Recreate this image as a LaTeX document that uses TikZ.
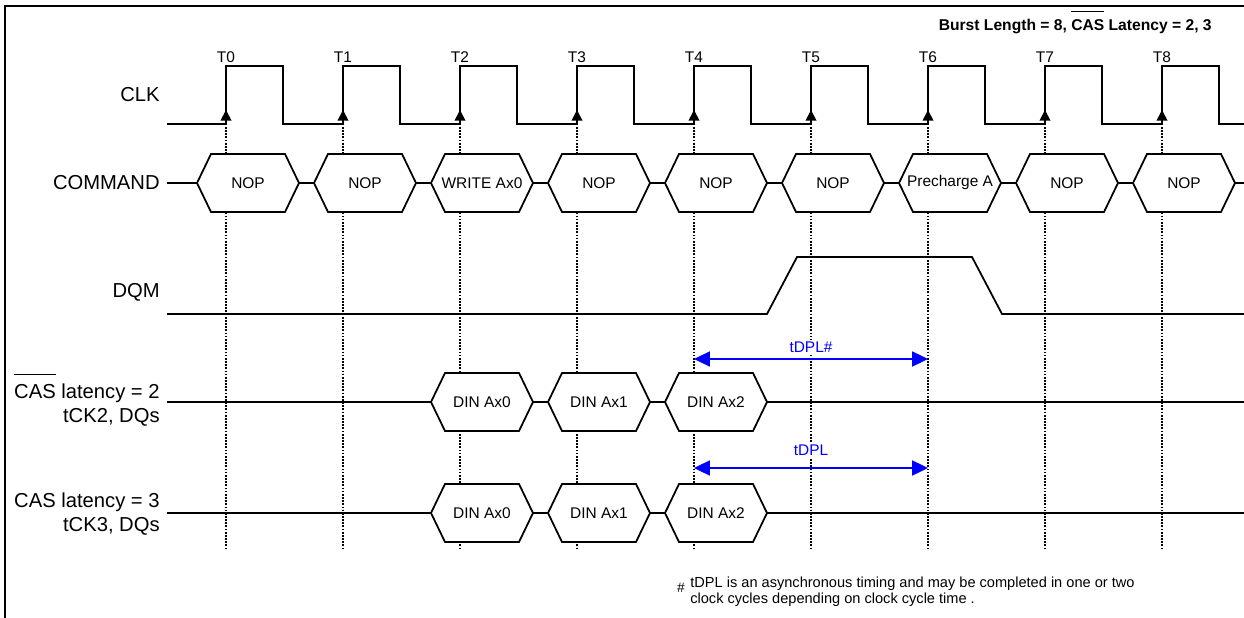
\documentclass[tikz,border=0pt]{standalone}
\usepackage{fontspec}
\setmainfont{Liberation Sans}
\usetikzlibrary{arrows.meta}
\newcommand{\barred}[1]{\setbox0\hbox{#1}\rlap{\smash{\rule[1.15em]{\wd0}{0.6pt}}}\box0\relax}
\newcommand{\hexbox}[4]{%
  \draw[hexbox] (#2,#3) ++(-29,0) -- ++(14,-29) -- ++(74,0) -- ++(14,29)
    -- ++(-14,29) -- ++(-74,0) -- cycle;
  \path (#2,#3) ++(22,0) node[small] (#1) {#4};}

\begin{document}
\begin{tikzpicture}[x=0.02cm, y=-0.02cm,
    sig/.style={line width=1pt},
    guide/.style={line width=1.1pt, dash pattern=on 1pt off 0.8pt},
    lbl/.style={anchor=east, inner sep=0pt, align=right, font=\fontsize{11.5}{14}\selectfont},
    small/.style={font=\fontsize{8.8}{10.5}\selectfont},
    hexbox/.style={sig, fill=white},
    timing/.style={blue, line width=1.1pt, {Triangle[length=9pt,width=8.5pt]}-{Triangle[length=9pt,width=8.5pt]}}]
  \useasboundingbox (0,0) rectangle (1244,618);
  \draw[line width=1.1pt] (1244,6) -- (5,6) -- (5,618);
  \node[anchor=east, inner sep=0pt, font=\fontsize{8.9}{10.5}\selectfont\bfseries] (title) at (1212,26)
    {Burst Length = 8, \barred{CAS} Latency = 2, 3};

  % clock edges and guides
  \foreach \n in {0,...,8} {
    \coordinate (T\n) at (226+117*\n,124);
    \draw[guide] (T\n) ++(0,3) -- ++(0,422);
  }
  \draw[sig] (167,124) \foreach \n in {0,...,8} { -- (T\n) -- ++(0,-58) -- ++(57,0) -- ++(0,58) } -- (1244,124);
  \foreach \n in {0,...,8} {
    \draw[sig, -{Triangle[length=6pt,width=6pt]}] (T\n) -- ++(0,-14);
    \path (T\n) ++(0,-67) node[small] (tl\n) {T\n};
  }

  % signal names
  \node[lbl] (clk) at (160,95) {CLK};
  \node[lbl] (cmd) at (160,183) {COMMAND};
  \node[lbl] (dqm) at (160,292) {DQM};
  \node[lbl] (cas2) at (160,405) {\barred{CAS} latency = 2\\tCK2, DQs};
  \node[lbl] (cas3) at (160,514) {CAS latency = 3\\tCK3, DQs};

  % rows
  \draw[sig] (cmd.east) ++(7,0) -- (1244,183);
  \draw[sig] (167,314) -- (767,314) -- (797,257) -- (972,257) -- (1002,314) -- (1244,314);
  \draw[sig] (167,402) -- (1244,402);
  \draw[sig] (167,513) -- (1244,513);
  \foreach \n/\txt in {0/NOP,1/NOP,2/WRITE Ax0,3/NOP,4/NOP,5/NOP,6/Precharge A,7/NOP,8/NOP}
    \hexbox{c\n}{226+117*\n}{183}{\txt};
  \foreach \n/\k in {2/0,3/1,4/2} {
    \hexbox{da\k}{226+117*\n}{402}{DIN Ax\k};
    \hexbox{db\k}{226+117*\n}{513}{DIN Ax\k};
  }

  % tDPL
  \coordinate (a4) at (694,359);
  \coordinate (a6) at (928,359);
  \coordinate (b4) at (694,468);
  \coordinate (b6) at (928,468);
  \draw[timing] (a4) -- node[small, fill=white, inner sep=1pt, yshift=6.5pt] (tdplh) {tDPL\#} (a6);
  \draw[timing] (b4) -- node[small, fill=white, inner sep=1pt, yshift=10pt] (tdpl) {tDPL} (b6);

  % note
  \node[inner sep=0pt, font=\fontsize{7.8}{8}\selectfont] (hash) at (681,588) {\#};
  \node[anchor=north west, inner sep=0pt, align=left, font=\fontsize{8.3}{9.1}\selectfont] (note) at (690,577)
    {tDPL is an asynchronous timing and may be completed in one or two\\clock cycles depending on clock cycle time .};
\end{tikzpicture}
\end{document}
